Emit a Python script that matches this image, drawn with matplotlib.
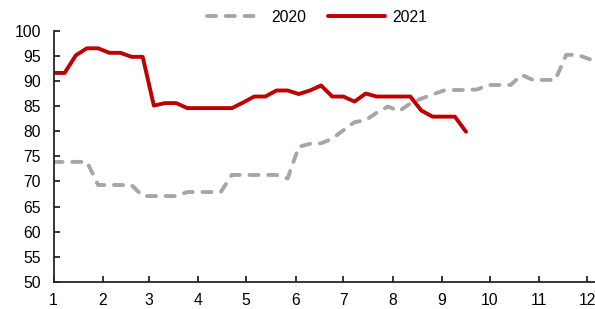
import numpy as np
import pandas as pd
import matplotlib
matplotlib.use("Agg")
import matplotlib.pyplot as plt

plt.rcParams['font.family'] = ['Liberation Sans', 'DejaVu Sans']
plt.rcParams['lines.scale_dashes'] = False

# weekly values
v2020 = [73.9, 73.9, 73.9, 73.9, 69.3, 69.3, 69.3, 69.3, 67.1, 67.1,
         67.1, 67.1, 67.9, 67.9, 67.9, 67.9, 71.3, 71.3, 71.3, 71.3,
         71.3, 70.6, 76.9, 77.5, 77.6, 78.5, 80.2, 81.8, 82.2, 83.7,
         84.9, 84.0, 85.5, 86.5, 87.3, 88.1, 88.2, 88.2, 88.3, 89.2,
         89.2, 89.2, 91.2, 90.2, 90.2, 90.2, 95.2, 95.2, 94.4, 93.6]
v2021 = [91.6, 91.6, 95.1, 96.5, 96.5, 95.6, 95.6, 94.8, 94.8, 85.1,
         85.6, 85.6, 84.6, 84.6, 84.6, 84.6, 84.6, 85.7, 86.9, 86.9,
         88.1, 88.1, 87.4, 88.1, 89.1, 86.9, 86.9, 85.9, 87.5, 86.9,
         86.9, 86.9, 86.9, 84.1, 82.9, 82.9, 82.9, 79.9]
month_labels = ['1', '2', '3', '4', '5', '6', '7', '8', '9', '10', '11', '12']

x2020 = np.arange(len(v2020)) * 7
x2021 = np.arange(len(v2021)) * 7
month_pos = pd.date_range('2020-01-01', periods=12, freq='MS').dayofyear - 1

fig = plt.figure(figsize=(5.95, 3.09), dpi=100)
ax = fig.add_axes([53.5 / 595, 1 - 282 / 309, 1 - 53.5 / 595, (282 - 30.7) / 309])

l1, = ax.plot(x2020, v2020, color='#A6A6A6', lw=2.8, dashes=(6.5, 7.0),
              dash_capstyle='round', solid_capstyle='round', label='2020')
l2, = ax.plot(x2021, v2021, color='#C00000', lw=2.8,
              solid_capstyle='round', label='2021')

ax.set_xlim(0, 340)
ax.set_ylim(50, 100)
ax.set_yticks(np.arange(50, 101, 5))
ax.set_xticks(month_pos)
ax.set_xticklabels(month_labels)

for s in ['top', 'right']:
    ax.spines[s].set_visible(False)
for s in ['left', 'bottom']:
    ax.spines[s].set_linewidth(1.3)
    ax.spines[s].set_color('#262626')
ax.tick_params(axis='both', direction='in', length=4, width=1.3,
               color='#262626', labelsize=11.3, labelcolor='black')
ax.tick_params(axis='y', pad=9)
ax.tick_params(axis='x', pad=8)

fig.legend(handles=[l1, l2], loc='center', bbox_to_anchor=(317 / 595, 1 - 17 / 309),
           ncol=2, frameon=False, fontsize=11.3, handlelength=3.6,
           handletextpad=0.5, columnspacing=1.4)

fig.savefig('out.png', dpi=100)
